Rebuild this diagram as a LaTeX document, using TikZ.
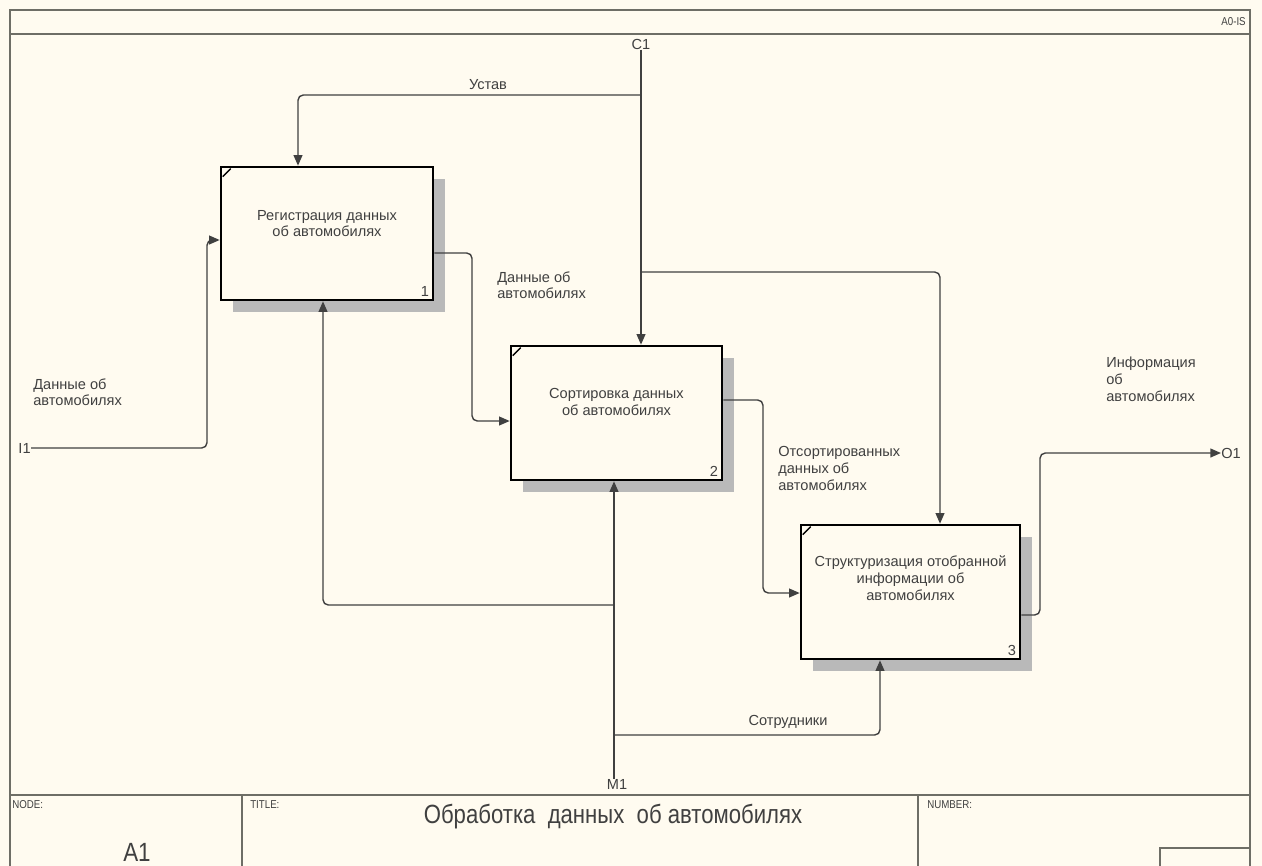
\documentclass[tikz,border=0pt]{standalone}
\usepackage{fontspec}
\setmainfont{Liberation Sans}
\usetikzlibrary{arrows.meta,calc,shadows}
\definecolor{paper}{HTML}{FFFBF0}
\definecolor{ink}{HTML}{404040}
\definecolor{frameink}{HTML}{6E6E66}

\begin{document}
\begin{tikzpicture}[x=0.02cm,y=-0.02cm,
  func/.style={rectangle, draw=black, line width=1.5pt, fill=paper, inner sep=0pt,
    drop shadow={shadow xshift=0.24cm, shadow yshift=-0.24cm, fill=gray!55, opacity=1}},
  boxtext/.style={font=\fontsize{8.3}{9.6}\selectfont, align=center, text=ink, inner sep=0pt},
  lbl/.style={font=\fontsize{8.3}{9.6}\selectfont, align=left, text=ink, inner sep=0pt},
  num/.style={font=\fontsize{8.3}{9.6}\selectfont, text=ink, inner sep=0pt},
  conn/.style={draw=ink, line width=0.8pt, rounded corners=3pt},
  arr/.style={conn, -{Triangle[length=6pt,width=5pt]}},
  frm/.style={draw=frameink, line width=1.1pt},
  small/.style={font=\fontsize{6.5}{7.5}\selectfont, text=ink, inner sep=0pt, xscale=0.85}
]
% page and frame
\useasboundingbox[fill=paper] (0,0) rectangle (1262,866);
\draw[frm] (10,866) -- (10,10) -- (1250,10) -- (1250,866);
\draw[frm] (10,34) -- (1250,34);
\draw[frm] (10,795) -- (1250,795);
\draw[frm] (242,795) -- (242,866);
\draw[frm] (918,795) -- (918,866);
\draw[frm] (1160,866) -- (1160,848) -- (1250,848);
\node[small, anchor=east] (hdr) at (1246,22) {A0-IS};

% function blocks
\node[func, minimum width=4.24cm, minimum height=2.66cm] (b1) at (327,233.5) {};
\node[func, minimum width=4.22cm, minimum height=2.68cm] (b2) at (616.5,413) {};
\node[func, minimum width=4.38cm, minimum height=2.68cm] (b3) at (910.5,592) {};
\foreach \b/\n in {b1/1,b2/2,b3/3}{
  \draw[black, line width=0.8pt] ($(\b.north west)+(3,11)$) -- ($(\b.north west)+(11,3)$);
  \node[num, anchor=south east] (n\b) at ($(\b.south east)+(-5,-4)$) {\n};
}
\node[boxtext] (t1) at ($(b1)+(0,-10)$) {Регистрация данных\\об автомобилях};
\node[boxtext] (t2) at ($(b2)+(0,-11)$) {Сортировка данных\\об автомобилях};
\node[boxtext] (t3) at ($(b3)+(0,-14)$) {Структуризация отобранной\\информации об\\автомобилях};

% boundary labels
\node[num] (c1) at (641,44) {C1};
\node[num, anchor=east] (i1) at (31,448) {I1};
\node[num, anchor=west] (o1) at (1221,453) {O1};
\node[num] (m1) at (617,784) {M1};

% bend points of the connectors
\coordinate (jc1) at (641,95);
\coordinate (jc2) at (641,272);
\coordinate (pc1) at (298,95);
\coordinate (pc3) at (940,272);
\coordinate (pi1a) at (207,448);
\coordinate (pi1b) at (207,240);
\coordinate (p12a) at (472,253);
\coordinate (p12b) at (472,421);
\coordinate (p23a) at (763,400);
\coordinate (p23b) at (763,593);
\coordinate (po1a) at (1040,615);
\coordinate (po1b) at (1040,453);
\coordinate (jm1) at (614,735);
\coordinate (jm2) at (614,605);
\coordinate (pm3) at (880,735);
\coordinate (pm1) at (323,605);

% control: C1 and Устав
\draw[arr] (c1.south) -- (c1.south |- b2.north);
\draw[arr] (jc1) -- (pc1) -- (pc1 |- b1.north);
\draw[arr] (jc2) -- (pc3) -- (pc3 |- b3.north);
\node[lbl] (lust) at (488,85) {Устав};

% input I1
\draw[arr] (i1.east) -- (pi1a) -- (pi1b) -- (b1.west |- pi1b);
\node[lbl, anchor=north west] (li1) at (33,378) {Данные об\\автомобилях};

% block 1 -> block 2
\draw[arr] (b1.east |- p12a) -- (p12a) -- (p12b) -- (b2.west |- p12b);
\node[lbl, anchor=north west] (l12) at (497,271) {Данные об\\автомобилях};

% block 2 -> block 3
\draw[arr] (b2.east |- p23a) -- (p23a) -- (p23b) -- (b3.west |- p23b);
\node[lbl, anchor=north west] (l23) at (778,446) {Отсортированных\\данных об\\автомобилях};

% block 3 -> O1
\draw[arr] (b3.east |- po1a) -- (po1a) -- (po1b) -- (o1.west);
\node[lbl, anchor=north west] (lo1) at (1106,357) {Информация\\об\\автомобилях};

% mechanism M1: Сотрудники
\draw[conn] (m1.north -| jm1) -- (jm1);
\draw[arr] (jm1) -- (pm3) -- (pm3 |- b3.south);
\draw[arr] (jm1) -- (jm1 |- b2.south);
\draw[arr] (jm2) -- (pm1) -- (pm1 |- b1.south);
\node[lbl] (lm1) at (788,722) {Сотрудники};

% footer
\node[small, anchor=north west] (fnode) at (12,800) {NODE:};
\node[small, anchor=north west] (ftitle) at (250,800) {TITLE:};
\node[small, anchor=north west] (fnum) at (927,800) {NUMBER:};
\node[font=\fontsize{15}{18}\selectfont, text=ink, xscale=0.85, inner sep=0pt] (fa1) at (137,852) {A1};
\node[font=\fontsize{15}{18}\selectfont, text=ink, xscale=0.84, inner sep=0pt] (ftext) at (613,817) {Обработка\ \ данных\ \ об автомобилях};
\end{tikzpicture}
\end{document}
